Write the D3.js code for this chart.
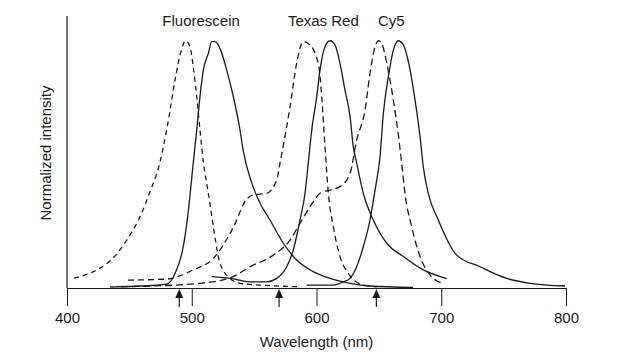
<!DOCTYPE html>
<html>
<head>
<meta charset="utf-8">
<script src="https://cdn.jsdelivr.net/npm/d3@7"></script>
<style>
  html, body { margin: 0; padding: 0; background: #fff; }
  svg { display: block; font-family: "Liberation Sans", Arial, sans-serif; }
</style>
</head>
<body>
<div id="chart"></div>
<script>
const width  = 621;
const height = 363;
const pad = {l: 67, r: 55, t: 16, b: 75};

// dye names and where their names sit (nm)
const dyes = ['Fluorescein', 'Texas Red', 'Cy5'];
const labelNm = [507.5, 605.5, 660];
const xTicks = [400, 500, 600, 700, 800];
const arrowNm = [490, 570, 648];

// [nm, normalized intensity]
const fluoEx = [[405.6,0.040],[423.8,0.073],[436.9,0.121],[447.9,0.194],[458.5,0.288],[466.5,0.389],
  [473.7,0.493],[479.9,0.639],[486.6,0.841],[490.6,0.942],[495.2,1.0],[498.6,0.976],[501.2,0.895],
  [504.0,0.774],[506.6,0.639],[509.3,0.510],[513.3,0.383],[517.3,0.248],[521.3,0.127],[526.7,0.059],
  [538.7,0.019],[554.7,0.012],[586.8,0.005]];
const fluoEm = [[439.8,0.005],[458.5,0.008],[479.9,0.016],[486.6,0.059],[493.2,0.167],[497.2,0.309],
  [501.2,0.505],[504.0,0.639],[506.6,0.774],[509.3,0.882],[513.3,0.949],[516.0,0.996],[518.6,0.996],
  [522.6,0.969],[528.0,0.882],[533.3,0.774],[538.7,0.639],[541.1,0.560],[548.1,0.425],[554.7,0.344],
  [562.7,0.275],[573.4,0.181],[584.1,0.113],[597.4,0.066],[610.8,0.039],[626.9,0.019],[642.9,0.008],
  [677.4,0.002]];
const texEx = [[448.9,0.032],[479.9,0.036],[501.0,0.073],[517.3,0.120],[533.1,0.243],[544.1,0.360],
  [549.1,0.376],[560.1,0.383],[568.1,0.437],[570.7,0.504],[578.8,0.733],[584.1,0.909],[589.4,0.996],
  [593.4,0.989],[601.4,0.909],[604.2,0.774],[606.8,0.571],[609.5,0.383],[613.5,0.248],[618.8,0.127],
  [625.5,0.059],[637.5,0.012],[648.3,0.005]];
const texEm = [[516.0,0.046],[530.7,0.039],[546.7,0.025],[560.1,0.025],[568.1,0.039],[576.1,0.086],
  [581.4,0.154],[586.8,0.275],[590.8,0.383],[593.4,0.505],[596.2,0.639],[600.2,0.774],[602.8,0.882],
  [606.8,0.976],[610.8,1.0],[614.8,0.983],[618.8,0.909],[622.8,0.801],[626.9,0.693],[629.5,0.571],
  [632.2,0.505],[637.5,0.383],[645.5,0.275],[656.3,0.181],[669.6,0.127],[685.6,0.073],[704.4,0.038]];
const cy5Ex = [[434.5,0.004],[466.5,0.008],[506.6,0.019],[533.1,0.046],[546.7,0.086],[565.4,0.133],
  [578.8,0.194],[586.8,0.262],[594.8,0.329],[602.8,0.383],[610.8,0.396],[618.8,0.410],[626.9,0.464],
  [632.2,0.598],[638.9,0.720],[642.9,0.868],[646.9,0.976],[649.5,1.0],[652.3,0.989],[656.3,0.909],
  [661.6,0.760],[665.6,0.619],[668.3,0.504],[670.9,0.383],[676.3,0.248],[683.0,0.127],[691.0,0.053],
  [700.4,0.020]];
const cy5Em = [[592.2,0.012],[613.5,0.012],[621.5,0.025],[626.9,0.039],[632.2,0.086],[637.5,0.167],
  [642.9,0.275],[646.9,0.396],[650.9,0.531],[653.6,0.706],[657.6,0.854],[661.6,0.962],[665.6,1.0],
  [669.6,0.983],[675.0,0.882],[679.0,0.760],[683.0,0.612],[685.6,0.490],[689.6,0.383],[697.6,0.275],
  [712.4,0.133],[731.1,0.086],[752.5,0.039],[771.1,0.019],[799.2,0.008]];

const spectra = [
  {d: fluoEx, dash: '5,4'},
  {d: texEx,  dash: '6,4'},
  {d: cy5Ex,  dash: '7,4'},
  {d: fluoEm, dash: null},
  {d: texEm,  dash: null},
  {d: cy5Em,  dash: null}
];

const ink = '#1a1a1a';

let svg = d3.select('#chart').append('svg')
  .attr('width', width).attr('height', height);

let x = d3.scaleLinear().domain([400, 800]).range([pad.l, width - pad.r]);
let y = d3.scaleLinear().domain([0, 1.1]).range([height - pad.b, pad.t]);

// y axis: plain line
svg.append('line')
  .attr('stroke', ink).attr('stroke-width', 1.2)
  .attr('x1', x(400)).attr('x2', x(400))
  .attr('y1', y(1.1)).attr('y2', y(0));

// x axis, ticks pointing down
let axisX = d3.axisBottom(x).tickValues(xTicks).tickSize(18).tickPadding(6).tickSizeOuter(0);
let gx = svg.append('g')
  .attr('transform', `translate(0, ${y(0)})`)
  .call(axisX);
gx.select('.domain').attr('stroke', ink).attr('stroke-width', 1.2);
gx.selectAll('.tick line').attr('stroke', ink).attr('stroke-width', 1);
gx.selectAll('.tick text')
  .attr('fill', ink).attr('font-size', 15)
  .attr('font-family', '"Liberation Sans", Arial, sans-serif');

// spectra
let line = d3.line().x(d => x(d[0])).y(d => y(d[1])).curve(d3.curveMonotoneX);
spectra.map(s => {
  svg.append('path')
    .datum(s.d)
    .attr('fill', 'none')
    .attr('stroke', ink)
    .attr('stroke-width', 1.3)
    .attr('stroke-dasharray', s.dash)
    .attr('d', line);
});

// excitation arrows
arrowNm.map(nm => {
  let ax = x(nm), ay = y(0);
  svg.append('line')
    .attr('stroke', ink).attr('stroke-width', 1.2)
    .attr('x1', ax).attr('x2', ax)
    .attr('y1', ay + 19).attr('y2', ay + 6);
  svg.append('path')
    .attr('fill', ink)
    .attr('d', `M${ax},${ay + 1}L${ax - 4},${ay + 10}L${ax + 4},${ay + 10}Z`);
});

// dye names
dyes.map((name, i) => {
  svg.append('text')
    .attr('x', x(labelNm[i])).attr('y', 26)
    .attr('text-anchor', 'middle')
    .attr('font-size', 15).attr('fill', ink)
    .text(name);
});

// axis titles
svg.append('text')
  .attr('x', x(600)).attr('y', 347)
  .attr('text-anchor', 'middle')
  .attr('font-size', 15).attr('fill', ink)
  .text('Wavelength (nm)');

svg.append('text')
  .attr('transform', `translate(51, ${(y(0) + y(1.1)) / 2 + 1}) rotate(-90)`)
  .attr('text-anchor', 'middle')
  .attr('font-size', 15).attr('fill', ink)
  .text('Normalized intensity');
</script>
</body>
</html>
